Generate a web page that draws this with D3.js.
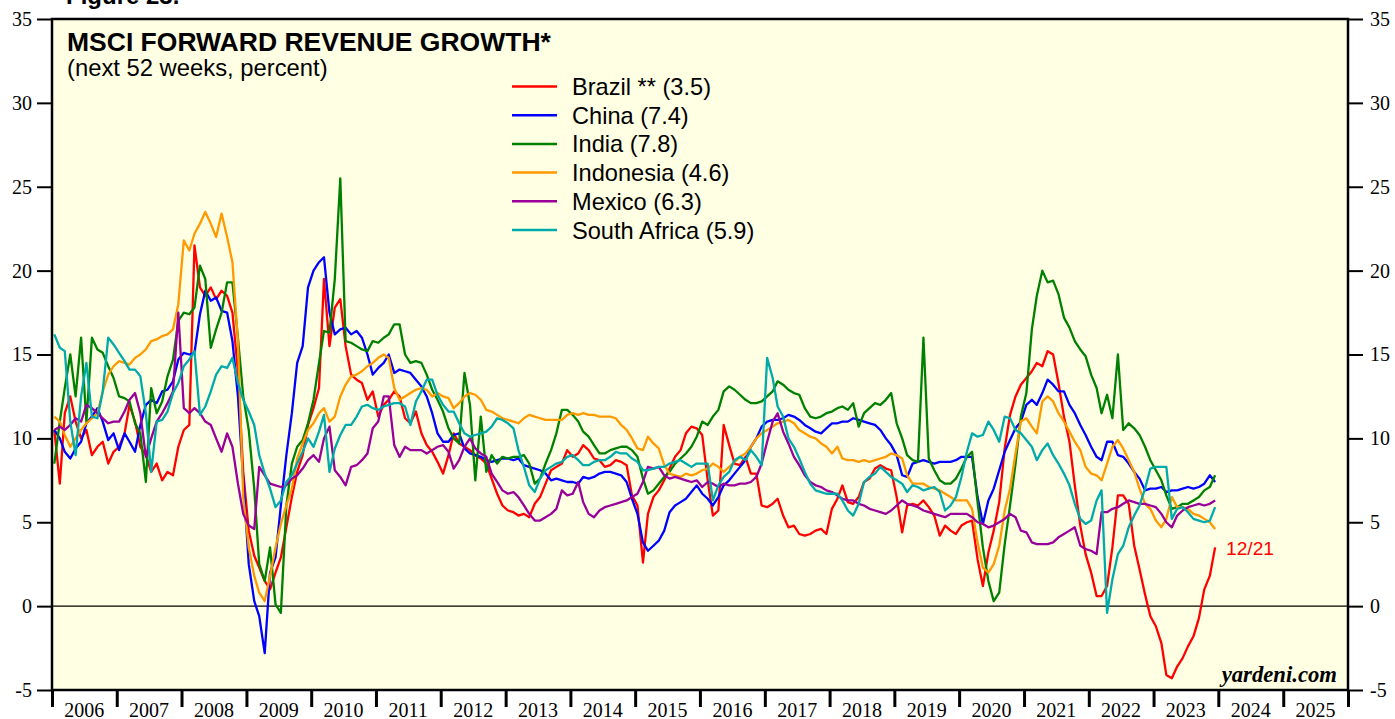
<!DOCTYPE html>
<html>
<head>
<meta charset="utf-8">
<script src="https://cdn.jsdelivr.net/npm/d3@7"></script>
<style>
  html, body { margin: 0; padding: 0; background: #ffffff; }
  svg { display: block; }
</style>
</head>
<body>
<svg id="chart" width="1395" height="719"></svg>
<script>
// ---------------- DATA (monthly, Jan 2006 .. Dec 2023) ----------------
const startYear = 2006;
const nMonths = 216;
const yTicks = [-5, 0, 5, 10, 15, 20, 25, 30, 35];
const yearLabels = ["2006","2007","2008","2009","2010","2011","2012","2013","2014","2015",
                    "2016","2017","2018","2019","2020","2021","2022","2023","2024","2025"];

const brazil = [
  10.5, 7.3, 11.5, 12.5, 11.0, 10.0, 10.5, 9.0, 9.5, 9.8,
  8.5, 9.2, 9.5, 10.3, 12.0, 11.0, 9.5, 9.0, 8.0, 8.5,
  7.5, 8.0, 7.8, 9.5, 10.5, 10.8, 21.5, 19.0, 18.5, 19.0,
  18.3, 18.8, 18.5, 17.5, 14.0, 8.0, 4.5, 3.0, 2.3, 1.5,
  1.0, 2.0, 2.9, 4.7, 6.5, 8.0, 9.0, 10.8, 11.8, 13.0,
  19.5, 15.5, 17.8, 18.3, 15.5, 13.8, 13.5, 13.3, 12.3, 12.8,
  11.3, 12.0, 12.3, 12.8, 12.5, 11.2, 10.9, 11.6, 10.3, 9.6,
  9.2, 8.6, 7.9, 9.0, 10.3, 9.7, 9.5, 9.3, 9.0, 8.8,
  8.5, 7.6, 6.7, 6.0, 5.7, 5.6, 5.4, 5.5, 5.3, 6.1,
  6.5, 7.3, 8.1, 8.3, 8.5, 9.3, 8.9, 9.1, 9.6, 9.3,
  8.8, 8.7, 8.3, 8.4, 8.7, 8.6, 8.4, 6.6, 6.0, 2.6,
  5.5, 6.5, 6.9, 7.5, 8.2, 8.9, 9.3, 10.3, 10.7, 10.6,
  10.2, 7.5, 5.4, 5.7, 10.8, 9.6, 8.5, 8.4, 8.9, 7.9,
  7.9, 6.0, 5.9, 6.1, 6.4, 5.4, 4.7, 4.8, 4.3, 4.2,
  4.3, 4.5, 4.6, 4.3, 5.8, 6.4, 7.2, 6.2, 6.1, 6.5,
  7.4, 7.6, 8.2, 8.4, 8.2, 8.1, 6.5, 4.4, 6.0, 6.1,
  6.0, 6.3, 5.9, 5.4, 4.2, 4.8, 4.5, 4.3, 4.8, 5.0,
  5.1, 2.8, 1.2, 3.2, 4.5, 6.2, 9.4, 11.4, 12.5, 13.2,
  13.6, 14.0, 14.5, 14.3, 15.2, 15.0, 13.3, 11.3, 9.8, 7.2,
  4.8, 3.1, 2.0, 0.6, 0.6, 1.2, 3.5, 6.6, 6.6, 6.1,
  3.6, 2.2, 0.7, -0.6, -1.2, -2.2, -4.1, -4.3, -3.6, -3.1,
  -2.4, -1.8, -0.7, 1.0, 1.8, 3.5
];

const china = [
  10.5, 10.0, 9.2, 8.8, 9.4, 9.8, 10.9, 11.3, 11.8, 11.0,
  9.9, 10.3, 9.3, 10.3, 9.8, 9.2, 10.8, 12.0, 12.3, 12.1,
  12.8, 12.9, 13.4, 14.7, 15.1, 15.0, 15.1, 17.4, 18.8, 18.2,
  18.4, 17.6, 17.5, 15.8, 12.5, 7.5, 2.5, 0.3, -0.6, -2.8,
  2.0, 2.9, 6.0, 9.0, 11.5, 14.5, 15.5, 19.0, 20.0, 20.5,
  20.8, 17.5, 16.2, 16.5, 16.6, 16.2, 16.4, 16.0, 15.0, 13.8,
  14.2, 14.5, 15.0, 13.9, 14.1, 14.0, 13.9, 13.5, 13.1, 12.5,
  11.5, 10.3, 9.8, 9.8, 10.2, 10.3, 9.4, 9.1, 9.0, 8.9,
  8.7, 8.6, 8.7, 8.8, 8.8, 8.7, 8.8, 8.4, 8.3, 8.2,
  8.1, 7.9, 7.5, 7.6, 7.5, 7.4, 7.4, 7.3, 7.7, 7.6,
  7.7, 7.9, 8.0, 8.0, 7.9, 7.8, 7.4, 6.4, 5.5, 3.8,
  3.3, 3.6, 3.9, 4.5, 5.6, 6.0, 6.2, 6.4, 6.8, 7.2,
  6.7, 6.4, 6.0, 6.5, 7.2, 7.5, 7.9, 8.3, 8.7, 9.5,
  10.0, 10.7, 11.0, 11.1, 11.1, 11.2, 11.4, 11.3, 11.1, 10.8,
  10.6, 10.4, 10.3, 10.6, 10.9, 10.9, 11.0, 11.0, 11.2, 11.1,
  11.0, 10.9, 10.8, 10.5, 10.0, 9.6, 9.0, 7.8, 7.7, 8.5,
  8.6, 8.7, 8.6, 8.5, 8.6, 8.6, 8.6, 8.7, 8.9, 8.9,
  8.9, 6.5, 4.9, 6.3, 7.0, 8.1, 9.2, 9.9, 10.6, 11.0,
  12.0, 12.3, 12.0, 12.7, 13.5, 13.2, 12.8, 12.8, 12.0, 11.5,
  10.8, 10.2, 9.5, 8.9, 8.7, 9.8, 9.8, 9.0, 8.9, 8.5,
  8.0, 7.6, 6.9, 7.0, 7.0, 7.1, 6.8, 6.9, 6.9, 7.0,
  7.1, 7.0, 7.1, 7.3, 7.8, 7.4
];

const india = [
  8.5, 11.0, 13.0, 15.0, 12.5, 16.0, 11.0, 16.0, 15.3, 15.1,
  14.3, 13.6, 12.5, 12.4, 12.2, 10.9, 10.3, 7.4, 13.0, 11.5,
  12.2, 13.7, 14.7, 17.0, 17.5, 17.4, 17.8, 20.3, 19.5, 15.4,
  16.5, 17.5, 19.3, 19.3, 16.0, 12.5, 10.5, 7.0, 2.5, 1.5,
  3.5, 0.1, -0.4, 6.0, 8.5, 9.5, 9.9, 10.9, 12.3, 14.5,
  16.4, 16.3, 19.5, 25.5, 15.8, 15.7, 15.5, 15.3, 15.2, 15.8,
  15.7, 16.0, 16.2, 16.8, 16.8, 15.0, 14.5, 14.6, 14.5, 13.8,
  12.9, 12.3, 11.6, 10.6, 10.0, 9.7, 13.9, 12.0, 7.5, 11.3,
  8.0, 9.0, 8.5, 8.9, 8.8, 8.9, 8.9, 9.0, 8.5, 7.3,
  7.6, 8.5, 9.3, 10.3, 11.7, 11.7, 11.4, 11.0, 10.4, 10.1,
  9.6, 9.1, 9.1, 9.3, 9.4, 9.5, 9.5, 9.3, 8.9, 7.6,
  6.7, 6.9, 7.3, 7.7, 8.0, 8.5, 8.8, 9.1, 9.5, 10.1,
  11.0, 10.8, 11.3, 11.7, 12.8, 13.1, 12.9, 12.6, 12.3, 12.1,
  12.1, 12.2, 12.5, 12.8, 13.4, 13.2, 12.9, 12.7, 12.6, 11.8,
  11.3, 11.2, 11.3, 11.5, 11.6, 11.8, 11.9, 11.7, 12.1, 10.7,
  11.5, 11.8, 12.1, 12.0, 12.3, 12.7, 10.9, 10.0, 9.0, 8.7,
  8.6, 16.0, 8.8, 8.1, 7.5, 7.3, 7.3, 7.6, 8.2, 8.9,
  9.2, 6.2, 3.5, 1.5, 0.3, 0.8, 3.7, 6.0, 8.5, 11.3,
  12.7, 16.5, 18.5, 20.0, 19.3, 19.4, 18.6, 17.2, 16.6, 15.8,
  15.3, 14.9, 13.8, 13.0, 11.5, 12.6, 11.2, 15.0, 10.5, 10.9,
  10.6, 10.2, 9.5, 8.7, 8.1, 7.5, 6.6, 5.8, 5.9, 6.1,
  6.1, 6.3, 6.5, 6.9, 7.1, 7.8
];

const indonesia = [
  11.3, 11.0, 10.2, 9.5, 10.0, 10.5, 10.9, 11.2, 11.5, 12.8,
  13.8, 14.3, 14.6, 14.5, 14.4, 14.8, 15.0, 15.3, 15.8, 15.9,
  16.1, 16.2, 16.5, 18.0, 21.8, 21.2, 22.2, 22.8, 23.5, 22.8,
  22.0, 23.4, 22.0, 20.5, 15.8, 6.5, 3.5, 1.8, 0.8, 0.3,
  1.8, 3.5, 4.9, 6.0, 7.0, 8.8, 9.7, 10.5, 10.9, 11.5,
  11.8, 11.0, 11.3, 12.5, 13.2, 13.7, 13.8, 14.0, 14.3, 14.5,
  14.8, 15.0, 14.8, 13.0, 12.3, 12.5, 12.7, 12.9, 13.0, 12.9,
  12.5, 12.7, 12.5, 12.4, 11.8, 12.1, 12.5, 12.7, 12.6, 12.3,
  11.7, 11.6, 11.4, 11.2, 11.1, 11.0, 10.9, 11.2, 11.4, 11.3,
  11.2, 11.1, 11.1, 11.1, 11.1, 11.4, 11.5, 11.4, 11.5, 11.4,
  11.4, 11.3, 11.3, 11.3, 11.2, 10.8, 10.5, 10.0, 9.4, 9.3,
  10.1, 9.7, 9.4, 8.4, 7.9, 7.8, 7.7, 7.9, 7.8, 7.9,
  8.1, 8.2, 8.5, 8.3, 8.0, 8.3, 8.6, 8.9, 9.1, 9.5,
  10.0, 10.3, 10.5, 10.7, 10.9, 11.0, 11.1, 10.9, 10.5, 10.3,
  10.1, 10.0, 9.7, 9.5, 9.1, 9.5, 8.8, 8.7, 8.7, 8.6,
  8.7, 8.6, 8.7, 8.8, 8.9, 9.1, 9.0, 8.8, 7.8, 7.3,
  7.3, 7.3, 7.1, 7.0, 6.9, 6.7, 6.5, 6.3, 6.3, 6.3,
  5.8, 3.8, 2.3, 2.0, 2.5, 3.6, 5.7, 7.0, 9.1, 11.0,
  11.2, 10.7, 10.3, 12.2, 12.5, 12.2, 11.5, 11.0, 10.4, 9.8,
  9.3, 8.3, 7.9, 7.8, 7.5, 8.5, 9.5, 9.9, 9.4, 8.7,
  8.0, 7.0, 6.1, 5.8, 5.1, 4.7, 5.2, 6.5, 5.9, 5.9,
  5.8, 5.5, 5.4, 5.2, 5.0, 4.6
];

const mexico = [
  10.5, 10.7, 10.5, 10.8, 11.2, 11.0, 12.0, 11.8, 11.5, 11.2,
  10.9, 11.0, 11.0, 11.6, 12.3, 12.7, 11.5, 8.9, 10.0, 11.0,
  11.5, 12.1, 12.8, 17.5, 11.8, 11.5, 11.8, 11.5, 11.0, 10.8,
  10.0, 9.2, 10.3, 9.5, 7.3, 5.5, 4.8, 4.6, 8.3, 7.8,
  7.3, 7.2, 7.1, 7.2, 7.6, 7.8, 8.2, 8.7, 9.0, 8.6,
  10.0, 10.7, 8.1, 7.7, 7.2, 8.3, 8.4, 8.7, 9.1, 10.6,
  11.0, 12.5, 12.5, 9.6, 8.9, 9.5, 9.3, 9.3, 9.3, 9.1,
  9.3, 9.5, 9.6, 9.2, 8.2, 8.7, 9.5, 10.0, 9.4, 9.1,
  8.9, 7.9, 7.4, 6.9, 6.7, 6.8, 6.5, 6.0, 5.5, 5.1,
  5.1, 5.3, 5.5, 5.8, 6.9, 6.6, 6.7, 7.4, 6.2, 5.5,
  5.3, 5.7, 5.9, 6.0, 6.1, 6.2, 6.3, 6.5, 6.7, 7.4,
  8.3, 8.2, 8.3, 7.8, 7.6, 7.7, 7.6, 7.5, 7.4, 7.5,
  7.1, 7.4, 7.3, 7.1, 7.3, 7.2, 7.2, 7.3, 7.3, 7.4,
  7.7, 8.5, 9.8, 11.0, 11.5, 10.4, 9.7, 8.9, 8.4, 7.8,
  7.4, 7.2, 7.1, 6.9, 6.8, 6.6, 6.4, 6.3, 6.3, 6.1,
  6.0, 5.8, 5.7, 5.6, 5.5, 5.7, 6.0, 6.3, 6.1, 6.0,
  5.9, 5.7, 5.6, 5.5, 5.4, 5.3, 5.5, 5.5, 5.5, 5.5,
  5.3, 5.0, 4.9, 4.7, 4.8, 5.0, 5.2, 5.5, 5.3, 4.5,
  4.4, 3.8, 3.7, 3.7, 3.7, 3.8, 4.1, 4.3, 4.5, 4.7,
  3.6, 3.4, 3.3, 3.1, 5.6, 5.6, 5.8, 5.9, 6.1, 6.3,
  6.2, 6.1, 6.1, 6.0, 5.9, 5.5, 5.0, 4.7, 5.4, 5.7,
  5.9, 6.0, 6.1, 6.0, 6.1, 6.3
];

const southAfrica = [
  16.2, 15.4, 15.2, 11.0, 9.0, 12.5, 14.5, 11.3, 11.2, 12.8,
  16.0, 15.6, 15.1, 14.6, 14.1, 14.1, 13.7, 11.5, 8.0, 11.0,
  11.1, 11.6, 12.7, 13.3, 14.3, 14.7, 15.2, 11.4, 11.9, 12.8,
  13.8, 14.3, 14.2, 14.8, 13.3, 12.3, 11.6, 10.8, 9.0, 7.9,
  7.0, 5.9, 6.3, 7.4, 7.8, 8.5, 9.2, 10.0, 9.5, 10.4,
  11.4, 8.0, 9.4, 10.2, 10.8, 10.8, 11.3, 11.9, 12.0, 11.8,
  11.7, 11.9, 12.0, 12.1, 12.1, 11.9, 10.8, 12.2, 12.8, 13.5,
  13.5, 12.6, 12.0, 11.6, 11.6, 10.9, 10.3, 10.1, 10.2, 10.3,
  10.4, 10.7, 11.2, 11.1, 10.9, 10.6, 9.3, 8.3, 7.2, 6.8,
  7.6, 8.1, 8.3, 8.5, 8.6, 8.9, 9.0, 8.7, 8.4, 8.4,
  8.6, 8.7, 8.7, 8.9, 9.2, 9.1, 9.1, 8.8, 8.6, 8.1,
  8.1, 8.2, 8.3, 8.3, 8.5, 8.6, 8.7, 8.5, 8.3, 8.5,
  8.5, 8.5, 6.3, 7.2, 7.7, 8.0, 8.7, 8.9, 8.7, 9.3,
  8.9, 8.4, 14.8, 13.6, 11.9, 11.3, 10.0, 9.5, 8.8, 8.0,
  7.3, 6.9, 6.8, 6.7, 6.7, 6.7, 6.3, 5.7, 5.4, 6.1,
  7.4, 7.7, 7.9, 8.3, 8.0, 7.7, 7.5, 7.3, 6.8, 7.2,
  7.1, 6.9, 7.0, 7.1, 6.8, 5.7, 6.0, 6.5, 7.7, 9.2,
  10.3, 10.1, 10.2, 11.0, 10.5, 9.8, 11.3, 11.2, 10.5, 10.3,
  9.9, 9.5, 8.7, 9.3, 9.7, 9.0, 8.5, 7.9, 7.2, 6.1,
  5.2, 4.9, 5.1, 6.3, 6.9, -0.4, 1.6, 3.1, 3.6, 4.7,
  5.4, 6.0, 7.0, 8.2, 8.3, 8.3, 8.3, 5.2, 5.8, 5.9,
  5.6, 5.2, 5.1, 5.0, 5.1, 5.9
];

const seriesNames = ["Brazil ** (3.5)", "China (7.4)", "India (7.8)", "Indonesia (4.6)", "Mexico (6.3)", "South Africa (5.9)"];
const seriesValues = [brazil, china, india, indonesia, mexico, southAfrica];
const seriesColors = ["#ff0000", "#0000ff", "#008000", "#ff9900", "#990099", "#00aaaa"];

// ---------------- CHART ----------------
const svg = d3.select("#chart");
const pL = 52, pR = 1348, pT = 19, pB = 690;

const dates = d3.range(nMonths).map(i => new Date(startYear, i, 14));
const x = d3.scaleTime().domain([new Date(2006, 0, 1), new Date(2026, 0, 1)]).range([pL, pR]);
const y = d3.scaleLinear().domain([-5, 35]).range([pB, pT]);

// plot background
svg.append("rect").attr("x", pL).attr("y", pT)
  .attr("width", pR - pL).attr("height", pB - pT)
  .attr("fill", "#ffffe3");

// "Figure" header (cut off at top)
svg.append("text").attr("x", 66).attr("y", 4)
  .attr("font-family", "Liberation Sans, Arial, sans-serif").attr("font-weight", "bold")
  .attr("font-size", 24).attr("fill", "#000").text("Figure 23.");

// zero line
svg.append("line").attr("x1", pL).attr("x2", pR)
  .attr("y1", y(0)).attr("y2", y(0)).attr("stroke", "#000").attr("stroke-width", 1.2);

// series lines
const line = d3.line().x((d, i) => x(dates[i])).y(d => y(d));
const g = svg.append("g");
seriesValues.forEach((vals, k) => {
  g.append("path").datum(vals).attr("d", line)
    .attr("fill", "none").attr("stroke", seriesColors[k])
    .attr("stroke-width", 2.3).attr("stroke-linejoin", "round");
});

// frame
svg.append("rect").attr("x", pL).attr("y", pT)
  .attr("width", pR - pL).attr("height", pB - pT)
  .attr("fill", "none").attr("stroke", "#000").attr("stroke-width", 2.5);

// y axes
const serif = "Liberation Serif, Times New Roman, serif";
const yFmt = d => String(d);
const yl = svg.append("g").attr("transform", `translate(${pL},0)`)
  .call(d3.axisLeft(y).tickValues(yTicks).tickSize(15).tickPadding(5).tickFormat(yFmt));
const yr = svg.append("g").attr("transform", `translate(${pR},0)`)
  .call(d3.axisRight(y).tickValues(yTicks).tickSize(15).tickPadding(7).tickFormat(yFmt));
[yl, yr].forEach(a => {
  a.select(".domain").remove();
  a.selectAll(".tick line").attr("stroke", "#000").attr("stroke-width", 2);
  a.selectAll(".tick text").attr("font-family", serif).attr("font-size", 20).attr("fill", "#000");
});

// x axis ticks at year boundaries
const xa = svg.append("g").attr("transform", `translate(0,${pB})`)
  .call(d3.axisBottom(x).ticks(d3.timeYear.every(1)).tickSize(17).tickFormat(""));
xa.select(".domain").remove();
xa.selectAll(".tick line").attr("stroke", "#000").attr("stroke-width", 3);

// year labels centered within each year
svg.append("g").selectAll("text").data(yearLabels).join("text")
  .attr("x", d => x(new Date(+d, 6, 2)))
  .attr("y", 717)
  .attr("text-anchor", "middle")
  .attr("font-family", serif).attr("font-size", 20).attr("fill", "#000")
  .text(d => d);

// title & subtitle
const sans = "Liberation Sans, Arial, Helvetica, sans-serif";
svg.append("text").attr("x", 67).attr("y", 51)
  .attr("font-family", sans).attr("font-weight", "bold").attr("font-size", 26.5)
  .attr("fill", "#000").text("MSCI FORWARD REVENUE GROWTH*");
svg.append("text").attr("x", 67).attr("y", 76)
  .attr("font-family", sans).attr("font-size", 23.8)
  .attr("fill", "#000").text("(next 52 weeks, percent)");

// legend
const lg = svg.append("g");
seriesNames.forEach((name, k) => {
  const ly = 86.5 + k * 28.7;
  lg.append("line").attr("x1", 512).attr("x2", 557).attr("y1", ly).attr("y2", ly)
    .attr("stroke", seriesColors[k]).attr("stroke-width", 2.5);
  lg.append("text").attr("x", 572).attr("y", ly + 8.5)
    .attr("font-family", sans).attr("font-size", 23.6).attr("fill", "#000").text(name);
});

// last-date label
svg.append("text").attr("x", 1226).attr("y", 555)
  .attr("font-family", sans).attr("font-size", 19.2).attr("fill", "#ff0000").text("12/21");

// source
svg.append("text").attr("x", 1337).attr("y", 682)
  .attr("text-anchor", "end")
  .attr("font-family", serif).attr("font-weight", "bold").attr("font-style", "italic")
  .attr("font-size", 22.7).attr("fill", "#000").text("yardeni.com");
</script>
</body>
</html>
